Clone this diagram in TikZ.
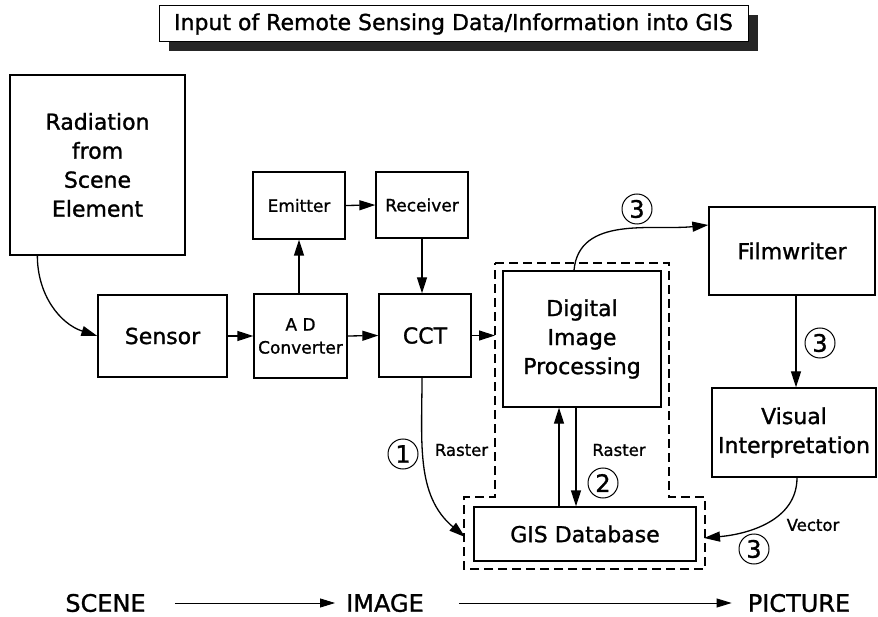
\documentclass[tikz,border=0pt]{standalone}
\usepackage{fontspec}
\setmainfont{DejaVu Sans}[UprightFeatures={FakeBold=1.2}]
\usetikzlibrary{arrows.meta,shadows}
\begin{document}
\begin{tikzpicture}[x=1pt,y=-1pt,
  box/.style={draw, line width=1.3pt, align=center, inner sep=0pt,
    font=\fontsize{22}{29}\selectfont},
  smallbox/.style={box, font=\fontsize{17}{23}\selectfont},
  lbl/.style={inner sep=0pt, font=\fontsize{16.5}{20}\selectfont},
  num/.style={draw, circle, line width=1pt, minimum size=30pt, inner sep=0pt,
    font=\fontsize{24}{24}\selectfont},
  link/.style={line width=1.3pt, -{Triangle[length=16pt,width=10pt]}},
  thinlink/.style={line width=0.8pt, -{Triangle[length=15pt,width=9pt]}},
  dashframe/.style={line width=1.6pt, dash pattern=on 9pt off 5pt},
  bottomlbl/.style={inner sep=0pt, font=\fontsize{24}{24}\selectfont}
]
\useasboundingbox (0,0) rectangle (878,617);

% title banner with heavy shadow
\node[draw, line width=1pt, fill=white, minimum width=589pt, minimum height=36pt,
  inner sep=0pt, font=\fontsize{22}{22}\selectfont,
  drop shadow={shadow xshift=10pt, shadow yshift=-9pt, fill=black!85, opacity=1}]
  (title) at (453.5,24) {Input of Remote Sensing Data/Information into GIS};

% processing chain
\node[box, minimum width=175pt, minimum height=180pt] (rad) at (97.5,165)
  {Radiation\\from\\Scene\\Element};
\node[box, minimum width=129pt, minimum height=82pt] (sensor) at (162.5,336) {Sensor};
\node[smallbox, minimum width=93pt, minimum height=84pt] (ad) at (300.5,336)
  {A D\\Converter};
\node[box, minimum width=92pt, minimum height=83pt] (cct) at (425,335.5) {CCT};
\node[smallbox, minimum width=92pt, minimum height=67pt] (emit) at (299,205.5) {Emitter};
\node[smallbox, minimum width=92pt, minimum height=66pt] (recv) at (422,205) {Receiver};
\node[box, minimum width=158pt, minimum height=136pt] (dip) at (582,339)
  {Digital\\Image\\Processing};
\node[box, minimum width=166pt, minimum height=88pt] (film) at (792,251) {Filmwriter};
\node[box, minimum width=164pt, minimum height=89pt] (vis) at (794,432.5)
  {Visual\\Interpretation};
\node[box, minimum width=222pt, minimum height=54pt] (gis) at (585,534) {GIS Database};

% GIS boundary
\draw[dashframe] (495,263) -- (669,263) -- (669,497) -- (705,497) -- (705,569)
  -- (464,569) -- (464,497) -- (495,497) -- cycle;
\coordinate (dipIn) at (495,335.5);
\coordinate (gisL) at (465,537);
\coordinate (gisR) at (704,538);

% connectors
\draw[link] ([xshift=28pt]rad.south west) to[out=-90, in=162] (sensor.west);
\draw[link] (sensor.east) -- (ad.west);
\draw[link] (ad.east) -- (cct.west);
\draw[link] (emit.south |- ad.north) -- (emit.south);
\draw[link] (emit.east) -- (recv.west);
\draw[link] (recv.south) -- (recv.south |- cct.north);
\draw[link] (cct.east) -- (dipIn);
\draw[link] ([xshift=-3pt]cct.south) to[out=-90, in=140] (gisL);
\draw[link] ([xshift=-26pt]gis.north) -- ([xshift=-26pt]gis.north |- dip.south);
\draw[link] ([xshift=-6pt]dip.south) -- ([xshift=-6pt]dip.south |- gis.north);
\draw[link] ([xshift=-8pt]dip.north) to[out=85, in=186] ([yshift=26pt]film.west);
\draw[link] ([xshift=4pt]film.south) -- ([xshift=4pt]film.south |- vis.north);
\draw[link] ([xshift=3pt]vis.south) to[out=-90, in=5] (gisR);

% connector labels
\node[lbl] (rasterA) at (461.5,450) {Raster};
\node[lbl] (rasterB) at (619,450) {Raster};
\node[lbl] (vector) at (813,525) {Vector};
\node[num] (n1) at (403,454) {1};
\node[num] (n2) at (603,483) {2};
\node[num] (n3a) at (637,209) {3};
\node[num] (n3b) at (820,343) {3};
\node[num] (n3c) at (754,549) {3};

% scene -> image -> picture
\node[bottomlbl] (scene) at (105.5,603) {SCENE};
\node[bottomlbl] (image) at (385,603) {IMAGE};
\node[bottomlbl] (picture) at (799,603) {PICTURE};
\draw[thinlink] ([xshift=29pt]scene.east) -- ([xshift=-11pt]image.west);
\draw[thinlink] ([xshift=35pt]image.east) -- ([xshift=-16pt]picture.west);
\end{tikzpicture}
\end{document}
